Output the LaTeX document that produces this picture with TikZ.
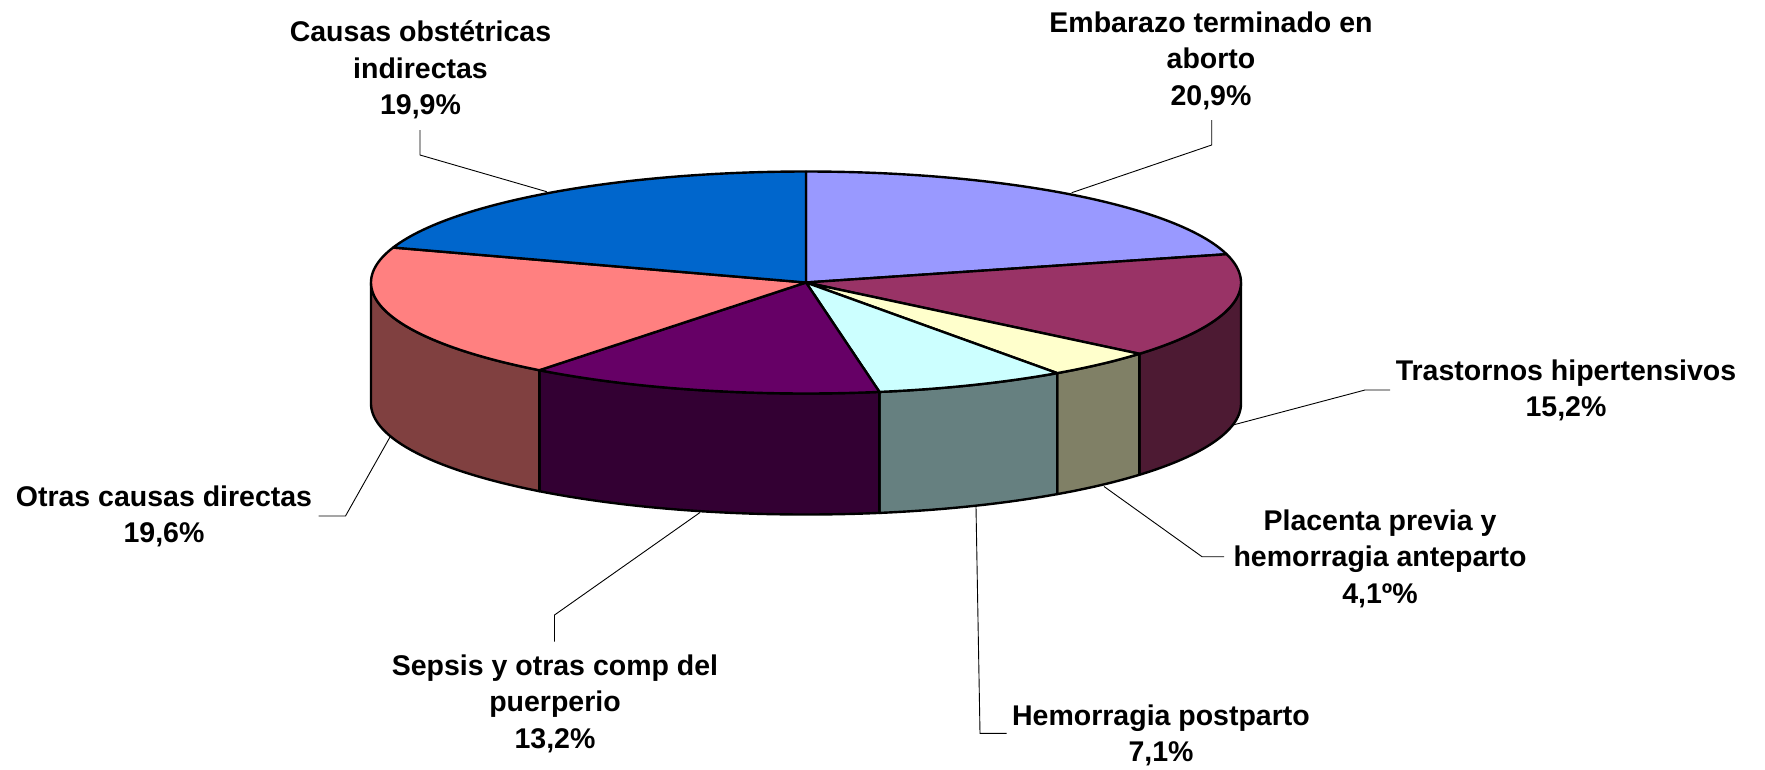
\documentclass[tikz,border=0pt]{standalone}
\usepackage{fontspec}
\setmainfont{Liberation Sans}
\definecolor{cE}{HTML}{9999FF}
\definecolor{cT}{HTML}{993366}
\definecolor{cTs}{HTML}{4D1A33}
\definecolor{cP}{HTML}{FFFFCC}
\definecolor{cPs}{HTML}{808066}
\definecolor{cH}{HTML}{CCFFFF}
\definecolor{cHs}{HTML}{668080}
\definecolor{cS}{HTML}{660066}
\definecolor{cSs}{HTML}{330033}
\definecolor{cO}{HTML}{FF8080}
\definecolor{cOs}{HTML}{804040}
\definecolor{cC}{HTML}{0066CC}
\newcommand\mytop[3]{\filldraw[pie,fill=#3] (806,282.5) -- plot[domain=#1:#2,samples=120] ({806+435*cos(\x)},{282.5-111*sin(\x)}) -- cycle;}
\newcommand\mywall[3]{\filldraw[pie,fill=#3] plot[domain=#1:#2,samples=120] ({806+435*cos(\x)},{282.5-111*sin(\x)}) -- plot[domain=#1:#2,samples=120] ({806+435*cos((#1)+(#2)-(\x))},{403.5-111*sin((#1)+(#2)-(\x))}) -- cycle;}
\newcommand\lbltxt[1]{\begin{tabular}[t]{@{}c@{}}#1\end{tabular}}
\begin{document}
\begin{tikzpicture}[x=1pt,y=-1pt,
  pie/.style={draw=black,line width=2.4pt,line join=round},
  leader/.style={draw=black,line width=0.9pt},
  lbl/.style={anchor=base,inner sep=0pt,font=\bfseries\fontsize{28.5}{36.6}\selectfont}]
\useasboundingbox (0,0) rectangle (1765,769);
\fill[white] (0,0) rectangle (1765,769);
% side walls
\mywall{-39.96}{0}{cTs}
\mywall{-54.72}{-39.96}{cPs}
\mywall{-80.28}{-54.72}{cHs}
\mywall{-127.8}{-80.28}{cSs}
\mywall{-180}{-127.8}{cOs}
% top faces
\mytop{14.76}{90}{cE}
\mytop{-39.96}{14.76}{cT}
\mytop{-54.72}{-39.96}{cP}
\mytop{-80.28}{-54.72}{cH}
\mytop{-127.8}{-80.28}{cS}
\mytop{-198.36}{-127.8}{cO}
\mytop{-270}{-198.36}{cC}
% labels
\node[lbl] (causas) at (420.5,41.7) {\lbltxt{Causas obstétricas\\indirectas\\19,9\%}};
\node[lbl] (embarazo) at (1211,32.3) {\lbltxt{Embarazo terminado en\\aborto\\20,9\%}};
\node[lbl] (trastornos) at (1566,380) {\lbltxt{Trastornos hipertensivos\\15,2\%}};
\node[lbl] (placenta) at (1380,530) {\lbltxt{Placenta previa y\\hemorragia anteparto\\4,1º\%}};
\node[lbl] (hemorragia) at (1161,725) {\lbltxt{Hemorragia postparto\\7,1\%}};
\node[lbl] (sepsis) at (555,675) {\lbltxt{Sepsis y otras comp del\\puerperio\\13,2\%}};
\node[lbl] (otras) at (164,506) {\lbltxt{Otras causas directas\\19,6\%}};
% leader coordinates
\coordinate (ca) at (420,130); \coordinate (cb) at (420,155); \coordinate (cc) at (546.7,191.7);
\coordinate (ea) at (1211.7,120); \coordinate (eb) at (1211.7,145); \coordinate (ec) at (1071.7,192.7);
\coordinate (ta) at (1390,390); \coordinate (tb) at (1365,390); \coordinate (tc) at (1233,425);
\coordinate (pa) at (1224,556.7); \coordinate (pb) at (1202,556.7); \coordinate (pc) at (1104,486.5);
\coordinate (ha) at (1006.7,733.3); \coordinate (hb) at (980,733.3); \coordinate (hc) at (976,507);
\coordinate (sa) at (554.5,641.7); \coordinate (sb) at (554.5,615); \coordinate (sc) at (700,512.5);
\coordinate (oa) at (318.5,516); \coordinate (ob) at (345.5,516); \coordinate (oc) at (390,437);
\draw[leader] (ca) -- (cb) -- (cc);
\draw[leader] (ea) -- (eb) -- (ec);
\draw[leader] (ta) -- (tb) -- (tc);
\draw[leader] (pa) -- (pb) -- (pc);
\draw[leader] (ha) -- (hb) -- (hc);
\draw[leader] (sa) -- (sb) -- (sc);
\draw[leader] (oa) -- (ob) -- (oc);
\end{tikzpicture}
\end{document}
